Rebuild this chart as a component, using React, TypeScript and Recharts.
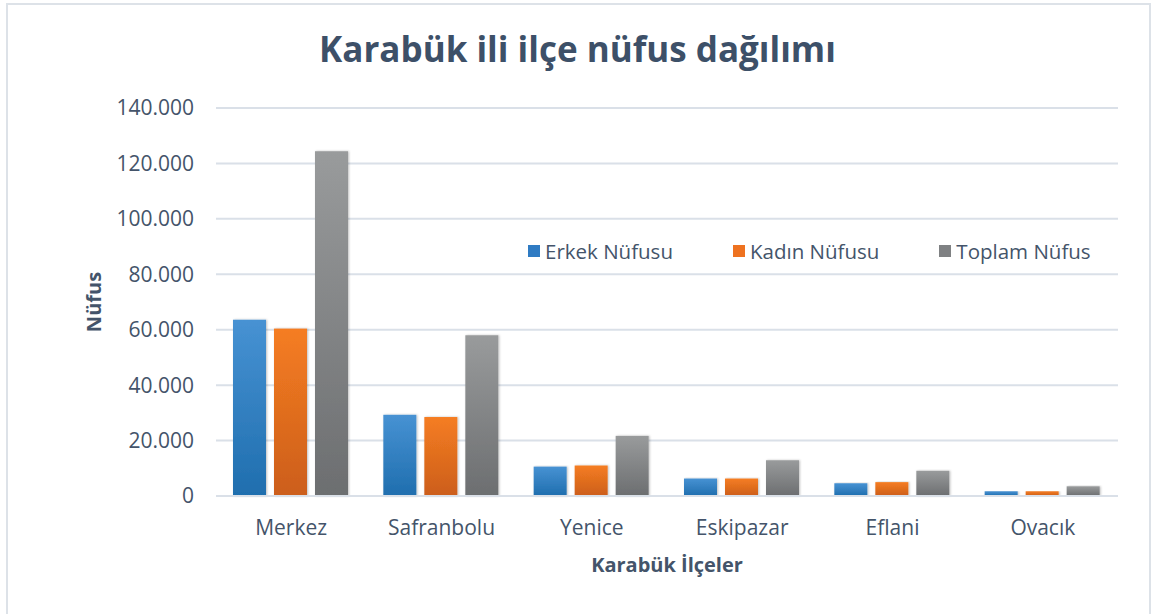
import React from 'react';
import { BarChart, Bar, XAxis, YAxis, CartesianGrid, Legend } from 'recharts';

const districts = ['Merkez', 'Safranbolu', 'Yenice', 'Eskipazar', 'Eflani', 'Ovacık'];
const erkek = [63600, 29300, 10600, 6300, 4600, 1700];
const kadin = [60400, 28500, 11000, 6300, 5000, 1700];
const toplam = [124400, 58000, 21700, 12900, 9100, 3500];
const yTicks = [0, 20000, 40000, 60000, 80000, 100000, 120000, 140000];

const series = [
  { key: 'erkek', name: 'Erkek Nüfusu', top: '#4792d3', bottom: '#1f6eae', swatch: '#2f7bc3' },
  { key: 'kadin', name: 'Kadın Nüfusu', top: '#f57d22', bottom: '#cc5e1b', swatch: '#ee7220' },
  { key: 'toplam', name: 'Toplam Nüfus', top: '#999b9c', bottom: '#6c6e70', swatch: '#7f8183' },
];

const data = districts.map((name, i) => ({
  name,
  erkek: erkek[i],
  kadin: kadin[i],
  toplam: toplam[i],
}));

const textColor = '#44546a';
const font = '"Open Sans", Lato, sans-serif';

const fmt = (v: number) => String(v).replace(/\B(?=(\d{3})+(?!\d))/g, '.');

const BarShape = (props: any) => {
  const { x, y, width, height, fill } = props;
  if (!height || height <= 0) return null;
  return <rect x={x} y={y} width={width} height={height} fill={fill} filter="url(#barShadow)" />;
};

const LegendContent = () => (
  <div style={{ display: 'flex', alignItems: 'center', height: 24, fontFamily: font, fontSize: 20.5, color: textColor }}>
    {series.map((s, i) => (
      <div key={s.key} style={{ display: 'flex', alignItems: 'center', marginRight: i < 2 ? 60 : 0 }}>
        <span style={{ width: 12, height: 12, background: s.swatch, marginRight: 5, display: 'inline-block' }} />
        <span>{s.name}</span>
      </div>
    ))}
  </div>
);

export default function App() {
  return (
    <div style={{ position: 'absolute', left: 0, top: 0, width: 1155, height: 614, background: '#fff', overflow: 'hidden' }}>
      <div
        style={{
          position: 'absolute',
          left: 6,
          top: 3,
          width: 1145,
          height: 620,
          border: '2px solid #dde2e8',
          boxSizing: 'border-box',
        }}
      />
      <div
        style={{
          position: 'absolute',
          left: 0,
          width: 1155,
          top: 28,
          lineHeight: '42px',
          textAlign: 'center',
          fontFamily: font,
          fontWeight: 700,
          fontSize: 35,
          color: '#3d5068',
        }}
      >
        Karabük ili ilçe nüfus dağılımı
      </div>
      <div style={{ position: 'absolute', left: 0, top: 0 }}>
        <BarChart
          width={1155}
          height={614}
          data={data}
          margin={{ top: 108, right: 37, bottom: 0, left: 0 }}
          barCategoryGap={17}
          barGap={8}
        >
          <defs>
            {series.map((s) => (
              <linearGradient key={s.key} id={`grad-${s.key}`} x1="0" y1="0" x2="0" y2="1">
                <stop offset="0%" stopColor={s.top} />
                <stop offset="100%" stopColor={s.bottom} />
              </linearGradient>
            ))}
            <filter id="barShadow" x="-20%" y="-5%" width="140%" height="110%">
              <feDropShadow dx="1" dy="0" stdDeviation="1.2" floodColor="#000" floodOpacity="0.25" />
            </filter>
          </defs>
          <CartesianGrid vertical={false} stroke="#dae0e8" strokeWidth={2} />
          <XAxis
            dataKey="name"
            height={118}
            axisLine={{ stroke: '#dae0e8', strokeWidth: 2 }}
            tickLine={false}
            tickMargin={18}
            tick={{ fill: textColor, fontSize: 21, fontFamily: font }}
            label={{
              value: 'Karabük İlçeler',
              position: 'insideBottom',
              offset: 42,
              fill: textColor,
              fontSize: 20,
              fontWeight: 700,
              fontFamily: font,
            }}
          />
          <YAxis
            width={216}
            domain={[0, 140000]}
            ticks={yTicks}
            axisLine={false}
            tickLine={false}
            tickMargin={22}
            tickSize={0}
            tickFormatter={fmt}
            tick={{ fill: textColor, fontSize: 21, fontFamily: font }}
            label={{
              value: 'Nüfus',
              angle: -90,
              position: 'insideLeft',
              offset: 94,
              fill: textColor,
              fontSize: 20,
              fontWeight: 700,
              fontFamily: font,
              style: { textAnchor: 'middle' },
            }}
          />
          <Legend
            verticalAlign="middle"
            align="center"
            content={<LegendContent />}
            wrapperStyle={{ top: 239, left: 528, width: 'auto' }}
          />
          {series.map((s) => (
            <Bar
              key={s.key}
              dataKey={s.key}
              name={s.name}
              fill={`url(#grad-${s.key})`}
              shape={BarShape}
              isAnimationActive={false}
            />
          ))}
        </BarChart>
      </div>
    </div>
  );
}
